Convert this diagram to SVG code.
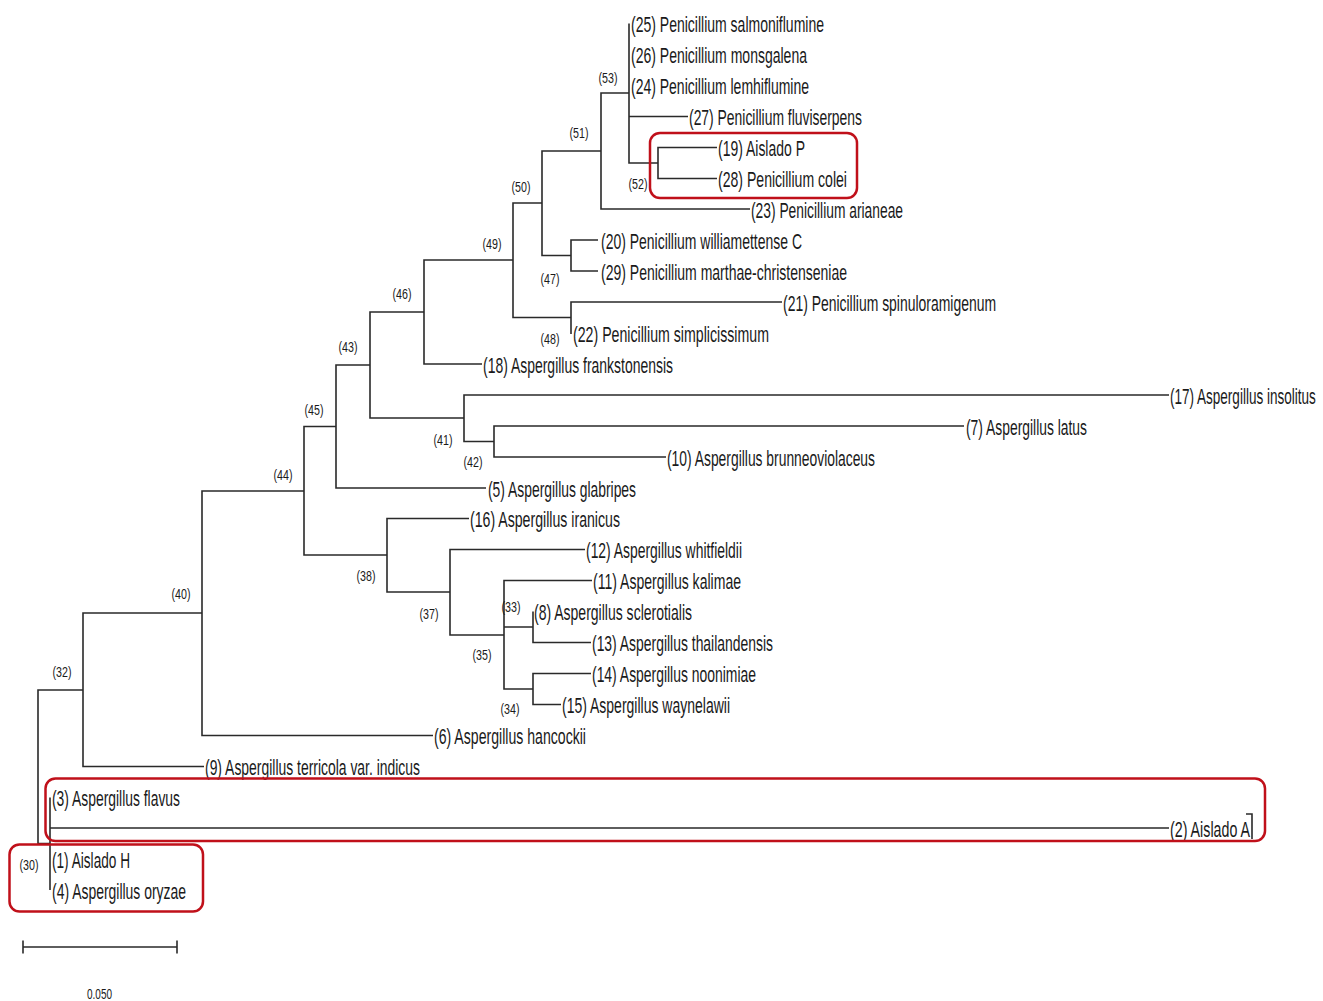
<svg xmlns="http://www.w3.org/2000/svg" width="1323" height="1001" viewBox="0 0 1323 1001">
<style>
  .br { fill: none; stroke: #2a2a2a; stroke-width: 1.6; }
  .lab { font-family: "Liberation Sans", Arial, sans-serif; font-size: 22px; fill: #1a1a1a; }
  .nd { font-family: "Liberation Sans", Arial, sans-serif; font-size: 15.5px; fill: #1a1a1a; text-anchor: middle; }
  .hl { fill: none; stroke: #c0101a; stroke-width: 2.5; }
</style>
<rect x="0" y="0" width="1323" height="1001" fill="#ffffff"/>
<g id="connectors">
  <path class="br" d="M717,147.5 H658 V178.5 H717"/>
  <path class="br" d="M629,23.5 V163 H658 M629,116.5 H688"/>
  <path class="br" d="M629,93 H601 V209 H750"/>
  <path class="br" d="M598,240 H571 V271 H598"/>
  <path class="br" d="M601,151 H542 V255.5 H571"/>
  <path class="br" d="M782,302 H571 V334"/>
  <path class="br" d="M542,203 H513 V317.5 H571"/>
  <path class="br" d="M513,260 H424 V364 H482"/>
  <path class="br" d="M964,426 H494 V457 H666"/>
  <path class="br" d="M1169,395 H464 V441.5 H494"/>
  <path class="br" d="M424,312 H370 V418 H464"/>
  <path class="br" d="M370,365 H336 V488 H486"/>
  <path class="br" d="M533,611.5 V642.5 H591"/>
  <path class="br" d="M591,673.5 H533 V704.5 H561"/>
  <path class="br" d="M592,580.5 H504 V689 H533 M504,627 H533"/>
  <path class="br" d="M585,549.5 H450 V635 H504"/>
  <path class="br" d="M469,518.5 H387 V592 H450"/>
  <path class="br" d="M336,426.5 H304 V555 H387"/>
  <path class="br" d="M304,491 H202 V735.5 H433"/>
  <path class="br" d="M202,613 H83 V766.5 H204"/>
  <path class="br" d="M50,797.5 V890 M50,828 H1169"/>
  <path class="br" d="M83,690 H38 V843.5 H50"/>
  <path class="br" d="M1246,814 H1252 V839" stroke-width="1.3"/>
</g>
<g id="leaves">
  <g id="leaf25"><text class="lab" x="631" y="32" textLength="193" lengthAdjust="spacingAndGlyphs">(25) Penicillium salmoniflumine</text></g>
  <g id="leaf26"><text class="lab" x="631" y="63" textLength="176" lengthAdjust="spacingAndGlyphs">(26) Penicillium monsgalena</text></g>
  <g id="leaf24"><text class="lab" x="631" y="94" textLength="178" lengthAdjust="spacingAndGlyphs">(24) Penicillium lemhiflumine</text></g>
  <g id="leaf27"><text class="lab" x="689" y="125" textLength="173" lengthAdjust="spacingAndGlyphs">(27) Penicillium fluviserpens</text></g>
  <g id="leaf19"><text class="lab" x="718" y="156" textLength="87" lengthAdjust="spacingAndGlyphs">(19) Aislado P</text></g>
  <g id="leaf28"><text class="lab" x="718" y="187" textLength="129" lengthAdjust="spacingAndGlyphs">(28) Penicillium colei</text></g>
  <g id="leaf23"><text class="lab" x="751" y="217.5" textLength="152" lengthAdjust="spacingAndGlyphs">(23) Penicillium arianeae</text></g>
  <g id="leaf20"><text class="lab" x="601" y="248.5" textLength="201" lengthAdjust="spacingAndGlyphs">(20) Penicillium williamettense C</text></g>
  <g id="leaf29"><text class="lab" x="601" y="279.5" textLength="246" lengthAdjust="spacingAndGlyphs">(29) Penicillium marthae-christenseniae</text></g>
  <g id="leaf21"><text class="lab" x="783" y="310.5" textLength="213" lengthAdjust="spacingAndGlyphs">(21) Penicillium spinuloramigenum</text></g>
  <g id="leaf22"><text class="lab" x="573" y="341.5" textLength="196" lengthAdjust="spacingAndGlyphs">(22) Penicillium simplicissimum</text></g>
  <g id="leaf18"><text class="lab" x="483" y="372.5" textLength="190" lengthAdjust="spacingAndGlyphs">(18) Aspergillus frankstonensis</text></g>
  <g id="leaf17"><text class="lab" transform="translate(1170,403.5) scale(0.615,1)" x="0" y="0">(17) Aspergillus insolitus</text></g>
  <g id="leaf7"><text class="lab" x="966" y="434.5" textLength="121" lengthAdjust="spacingAndGlyphs">(7) Aspergillus latus</text></g>
  <g id="leaf10"><text class="lab" x="667" y="465.5" textLength="208" lengthAdjust="spacingAndGlyphs">(10) Aspergillus brunneoviolaceus</text></g>
  <g id="leaf5"><text class="lab" x="488" y="496.5" textLength="148" lengthAdjust="spacingAndGlyphs">(5) Aspergillus glabripes</text></g>
  <g id="leaf16"><text class="lab" x="470" y="527" textLength="150" lengthAdjust="spacingAndGlyphs">(16) Aspergillus iranicus</text></g>
  <g id="leaf12"><text class="lab" x="586" y="558" textLength="156" lengthAdjust="spacingAndGlyphs">(12) Aspergillus whitfieldii</text></g>
  <g id="leaf11"><text class="lab" x="593" y="589" textLength="148" lengthAdjust="spacingAndGlyphs">(11) Aspergillus kalimae</text></g>
  <g id="leaf8"><text class="lab" x="534" y="620" textLength="158" lengthAdjust="spacingAndGlyphs">(8) Aspergillus sclerotialis</text></g>
  <g id="leaf13"><text class="lab" x="592" y="651" textLength="181" lengthAdjust="spacingAndGlyphs">(13) Aspergillus thailandensis</text></g>
  <g id="leaf14"><text class="lab" x="592" y="682" textLength="164" lengthAdjust="spacingAndGlyphs">(14) Aspergillus noonimiae</text></g>
  <g id="leaf15"><text class="lab" x="562" y="713" textLength="168" lengthAdjust="spacingAndGlyphs">(15) Aspergillus waynelawii</text></g>
  <g id="leaf6"><text class="lab" x="434" y="744" textLength="152" lengthAdjust="spacingAndGlyphs">(6) Aspergillus hancockii</text></g>
  <g id="leaf9"><text class="lab" x="205" y="775" textLength="215" lengthAdjust="spacingAndGlyphs">(9) Aspergillus terricola var. indicus</text></g>
  <g id="leaf3"><text class="lab" x="52" y="806" textLength="128" lengthAdjust="spacingAndGlyphs">(3) Aspergillus flavus</text></g>
  <g id="leaf2"><text class="lab" x="1170" y="836.5" textLength="80" lengthAdjust="spacingAndGlyphs">(2) Aislado A</text></g>
  <g id="leaf1"><text class="lab" x="52" y="867.5" textLength="78" lengthAdjust="spacingAndGlyphs">(1) Aislado H</text></g>
  <g id="leaf4"><text class="lab" x="52" y="898.5" textLength="134" lengthAdjust="spacingAndGlyphs">(4) Aspergillus oryzae</text></g>
</g>
<g id="internal-nodes">
  <g id="n53"><text class="nd" x="608" y="83" textLength="19" lengthAdjust="spacingAndGlyphs">(53)</text></g>
  <g id="n52"><text class="nd" x="638" y="189" textLength="19" lengthAdjust="spacingAndGlyphs">(52)</text></g>
  <g id="n51"><text class="nd" x="579" y="138" textLength="19" lengthAdjust="spacingAndGlyphs">(51)</text></g>
  <g id="n50"><text class="nd" x="521" y="192" textLength="19" lengthAdjust="spacingAndGlyphs">(50)</text></g>
  <g id="n49"><text class="nd" x="492" y="249" textLength="19" lengthAdjust="spacingAndGlyphs">(49)</text></g>
  <g id="n47"><text class="nd" x="550" y="284" textLength="19" lengthAdjust="spacingAndGlyphs">(47)</text></g>
  <g id="n48"><text class="nd" x="550" y="344" textLength="19" lengthAdjust="spacingAndGlyphs">(48)</text></g>
  <g id="n46"><text class="nd" x="402" y="299" textLength="19" lengthAdjust="spacingAndGlyphs">(46)</text></g>
  <g id="n43"><text class="nd" x="348" y="352" textLength="19" lengthAdjust="spacingAndGlyphs">(43)</text></g>
  <g id="n45"><text class="nd" x="314" y="415" textLength="19" lengthAdjust="spacingAndGlyphs">(45)</text></g>
  <g id="n44"><text class="nd" x="283" y="480" textLength="19" lengthAdjust="spacingAndGlyphs">(44)</text></g>
  <g id="n41"><text class="nd" x="443" y="445" textLength="19" lengthAdjust="spacingAndGlyphs">(41)</text></g>
  <g id="n42"><text class="nd" x="473" y="467" textLength="19" lengthAdjust="spacingAndGlyphs">(42)</text></g>
  <g id="n40"><text class="nd" x="181" y="599" textLength="19" lengthAdjust="spacingAndGlyphs">(40)</text></g>
  <g id="n38"><text class="nd" x="366" y="581" textLength="19" lengthAdjust="spacingAndGlyphs">(38)</text></g>
  <g id="n37"><text class="nd" x="429" y="619" textLength="19" lengthAdjust="spacingAndGlyphs">(37)</text></g>
  <g id="n33"><text class="nd" x="511" y="612" textLength="19" lengthAdjust="spacingAndGlyphs">(33)</text></g>
  <g id="n35"><text class="nd" x="482" y="660" textLength="19" lengthAdjust="spacingAndGlyphs">(35)</text></g>
  <g id="n34"><text class="nd" x="510" y="714" textLength="19" lengthAdjust="spacingAndGlyphs">(34)</text></g>
  <g id="n32"><text class="nd" x="62" y="677" textLength="19" lengthAdjust="spacingAndGlyphs">(32)</text></g>
  <g id="n30"><text class="nd" x="29" y="870" textLength="19" lengthAdjust="spacingAndGlyphs">(30)</text></g>
</g>
<g id="highlights">
  <rect class="hl" x="650" y="133" width="207" height="65" rx="10"/>
  <rect class="hl" x="45.5" y="778.5" width="1219.5" height="62.5" rx="10"/>
  <rect class="hl" x="9.5" y="844.5" width="193.5" height="67" rx="10"/>
</g>
<g id="scale-bar">
  <path class="br" d="M23,947 H177 M23,940.5 V953.5 M177,940.5 V953.5"/>
  <text class="nd" x="99.5" y="999" font-size="17" textLength="25" lengthAdjust="spacingAndGlyphs">0.050</text>
</g>
</svg>
